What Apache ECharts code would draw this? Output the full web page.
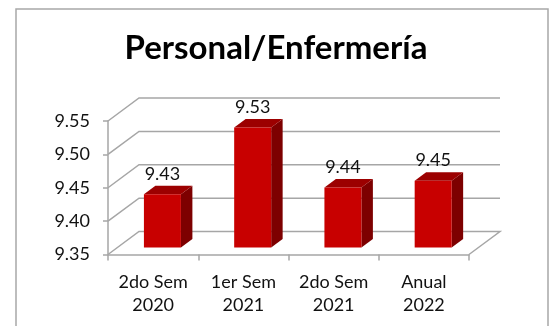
<!DOCTYPE html>
<html>
<head>
<meta charset="utf-8">
<style>
  html, body { margin: 0; padding: 0; background: #ffffff; }
  #chart { width: 552px; height: 326px; }
</style>
<script src="https://cdn.jsdelivr.net/npm/echarts@6/dist/echarts.min.js"></script>
</head>
<body>
<div id="chart"></div>
<script>
// Chart data
const chartTitle = 'Personal/Enfermería';
const categories = ['2do Sem\n2020', '1er Sem\n2021', '2do Sem\n2021', 'Anual\n2022'];
const values = [9.43, 9.53, 9.44, 9.45];
const yTicks = [9.35, 9.40, 9.45, 9.50, 9.55];

// Pseudo-3D geometry: depth vector of the floor/back wall and bar placement in depth
const DEPTH_DX = 31, DEPTH_DY = -23;
const BAR_FRONT = 0.3;     // bar front face position along the depth (0 = front, 1 = back)
const BAR_DEPTH = 0.37;    // bar thickness along the depth
const BAR_WIDTH = 0.41;    // fraction of a category band

const FONT = 'Lato, "Open Sans", sans-serif';
const GRID_COLOR = '#a6a6a6';

const yMin = yTicks[0], yMax = yTicks[yTicks.length - 1];

const chart = echarts.init(document.getElementById('chart'), null, { renderer: 'canvas' });

function renderWalls(params, api) {
  const cs = params.coordSys;
  const v = api.value(0);
  const y = api.coord([0, v])[1];
  const x0 = cs.x, x1 = cs.x + cs.width;
  const pts = [[x0, y], [x0 + DEPTH_DX, y + DEPTH_DY], [x1 + DEPTH_DX, y + DEPTH_DY]];
  if (v === yMin) pts.push([x1, y]);
  return {
    type: 'polyline',
    shape: { points: pts },
    style: { stroke: GRID_COLOR, lineWidth: 1.5, fill: null },
    silent: true
  };
}

function renderBar(params, api) {
  const idx = api.value(0);
  const val = api.value(1);
  const base = api.coord([idx, yMin]);
  const top = api.coord([idx, val]);
  const band = api.size([1, 0])[0];
  const w = band * BAR_WIDTH;
  const ox = BAR_FRONT * DEPTH_DX, oy = BAR_FRONT * DEPTH_DY;
  const dx = BAR_DEPTH * DEPTH_DX, dy = BAR_DEPTH * DEPTH_DY;
  const cx = base[0] + ox;
  const l = cx - w / 2, r = cx + w / 2;
  const yb = base[1] + oy, yt = top[1] + oy;
  return {
    type: 'group',
    children: [
      {
        type: 'polygon',
        shape: { points: [[r, yt], [r + dx, yt + dy], [r + dx, yb + dy], [r, yb]] },
        style: { fill: '#7d0000' }
      },
      {
        type: 'polygon',
        shape: { points: [[l, yt], [r, yt], [r + dx, yt + dy], [l + dx, yt + dy]] },
        style: { fill: '#9c0000' }
      },
      {
        type: 'rect',
        shape: { x: l, y: yt, width: w, height: yb - yt },
        style: { fill: '#c80000' }
      },
      {
        type: 'text',
        style: {
          x: cx, y: yt + dy - 12,
          text: val.toFixed(2),
          align: 'center', verticalAlign: 'middle',
          font: '18px ' + FONT, fill: '#111'
        }
      }
    ]
  };
}

const option = {
  backgroundColor: '#ffffff',
  animation: false,
  title: {
    text: chartTitle,
    left: 'center',
    top: 27,
    textStyle: { fontFamily: FONT, fontWeight: 'bold', fontSize: 33, color: '#000' }
  },
  graphic: [{
    type: 'rect',
    shape: { x: 16, y: 9, width: 532, height: 330 },
    style: { fill: null, stroke: '#a8a8a8', lineWidth: 1.5 },
    silent: true, z: 100
  }],
  grid: { left: 108, right: 83, top: 121, bottom: 71.5 },
  xAxis: {
    type: 'category',
    data: categories,
    boundaryGap: true,
    axisLine: { show: true, lineStyle: { color: GRID_COLOR, width: 1.5 } },
    axisTick: { show: true, length: 6, alignWithLabel: false, lineStyle: { color: GRID_COLOR, width: 1.5 } },
    axisLabel: { margin: 16, lineHeight: 23, fontFamily: FONT, fontSize: 18, color: '#111' },
    splitLine: { show: false }
  },
  yAxis: {
    type: 'value',
    min: yMin, max: yMax, interval: 0.05,
    axisLine: { show: true, lineStyle: { color: GRID_COLOR, width: 1.5 } },
    axisTick: { show: true, length: 5, lineStyle: { color: GRID_COLOR, width: 1.5 } },
    axisLabel: { margin: 18, fontFamily: FONT, fontSize: 18, color: '#111',
      formatter: v => v.toFixed(2) },
    splitLine: { show: false }
  },
  series: [
    {
      type: 'custom',
      name: 'walls',
      renderItem: renderWalls,
      data: yTicks.map(v => [v]),
      encode: { y: 0 },
      z: 1,
      silent: true
    },
    {
      type: 'custom',
      name: 'Personal/Enfermería',
      renderItem: renderBar,
      data: values.map((v, i) => [i, v]),
      encode: { x: 0, y: 1 },
      z: 3
    }
  ]
};

chart.setOption(option);
</script>
</body>
</html>
